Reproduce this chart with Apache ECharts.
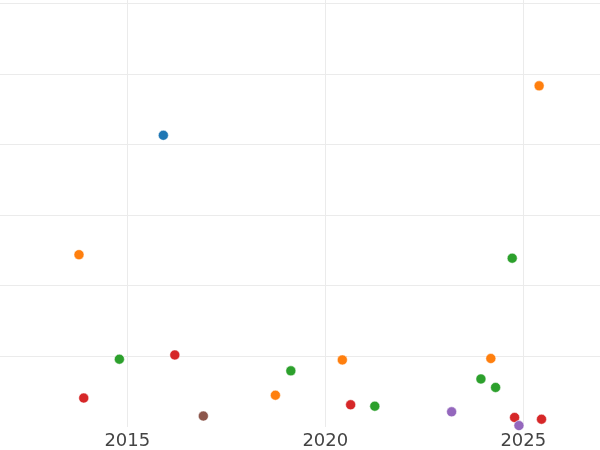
<!DOCTYPE html>
<html>
<head>
<meta charset="utf-8">
<script src="https://cdn.jsdelivr.net/npm/echarts@6/dist/echarts.min.js"></script>
<style>html,body{margin:0;padding:0;background:#fff}#c{width:600px;height:450px}</style>
</head>
<body>
<div id="c"></div>
<script>
// x = year (decimal), y = value
const seriesNames = ["A", "B", "C", "D", "E", "F"];
const seriesColors = ["#1f77b4", "#ff7f0e", "#2ca02c", "#d62728", "#9467bd", "#8c564b"];
const blueX = [2015.91];
const blueY = [41.3];
const orangeX = [2013.78, 2025.40, 2018.74, 2020.43, 2024.18];
const orangeY = [24.4, 48.3, 4.5, 9.5, 9.7];
const greenX = [2014.80, 2019.13, 2021.25, 2023.93, 2024.30, 2024.72];
const greenY = [9.6, 7.95, 2.95, 6.8, 5.6, 23.9];
const redX = [2013.90, 2016.20, 2020.64, 2024.78, 2025.46];
const redY = [4.1, 10.2, 3.15, 1.35, 1.1];
const purpleX = [2023.19, 2024.89];
const purpleY = [2.15, 0.2];
const brownX = [2016.92];
const brownY = [1.55];
const xTicks = [2010, 2015, 2020, 2025, 2030];

const groups = [[blueX, blueY], [orangeX, orangeY], [greenX, greenY], [redX, redY], [purpleX, purpleY], [brownX, brownY]];

const chart = echarts.init(document.getElementById('c'), null, {renderer: 'canvas'});
chart.setOption({
  animation: false,
  backgroundColor: '#fff',
  grid: {left: -70.7, right: -121.3, top: -67.4, bottom: 23, containLabel: false, outerBoundsMode: 'none'},
  xAxis: {
    type: 'value', min: xTicks[0], max: xTicks[xTicks.length - 1], interval: 5,
    axisLine: {show: false}, axisTick: {show: false},
    axisLabel: {color: '#444', fontFamily: 'DejaVu Sans', fontSize: 18, margin: 5, formatter: v => String(v)},
    splitLine: {show: true, lineStyle: {color: '#ebebeb', width: 1}}
  },
  yAxis: {
    type: 'value', min: 0, max: 70, interval: 10,
    axisLine: {show: false}, axisTick: {show: false}, axisLabel: {show: false},
    splitLine: {show: true, showMinLine: false, lineStyle: {color: '#ebebeb', width: 1}}
  },
  series: groups.map((g, i) => ({
    name: seriesNames[i],
    type: 'scatter',
    symbol: 'circle',
    symbolSize: 10,
    clip: true,
    itemStyle: {color: seriesColors[i], opacity: 1, borderColor: '#fff', borderWidth: 0.5},
    data: g[0].map((x, j) => [x, g[1][j]])
  }))
});
</script>
</body>
</html>
